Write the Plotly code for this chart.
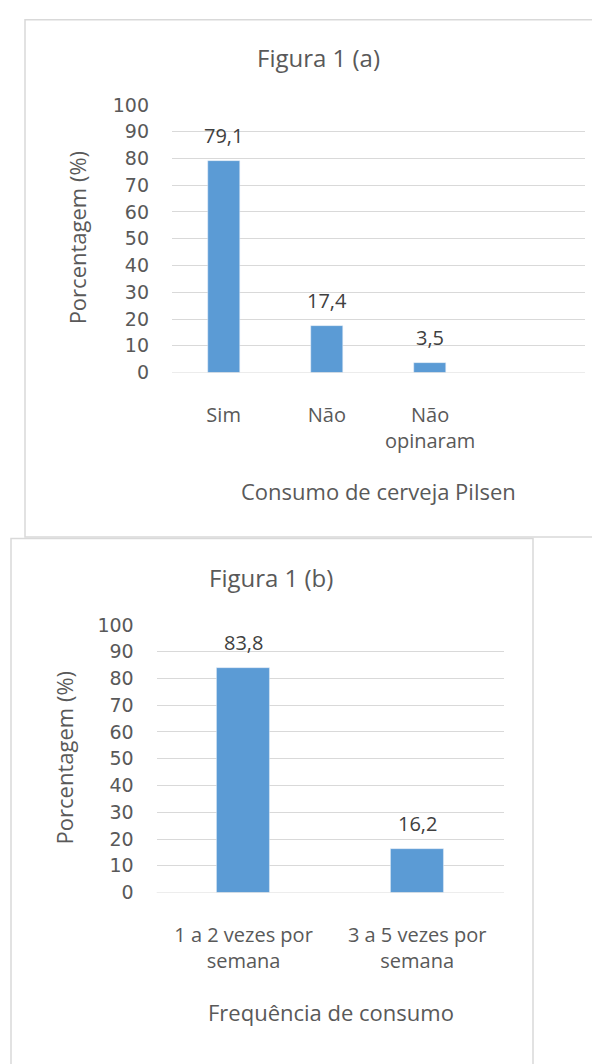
import plotly.graph_objects as go

# ---------------- data ----------------
cats_a = ["Sim", "Não", "Não<br>opinaram"]
vals_a = [79.1, 17.4, 3.5]
labels_a = ["79,1", "17,4", "3,5"]

cats_b = ["1 a 2 vezes por<br>semana", "3 a 5 vezes por<br>semana"]
vals_b = [83.8, 16.2]
labels_b = ["83,8", "16,2"]

title_a = "Figura 1 (a)"
title_b = "Figura 1 (b)"
xtitle_a = "Consumo de cerveja Pilsen"
xtitle_b = "Frequência de consumo"
ytitle = "Porcentagem (%)"
yticks = [0, 10, 20, 30, 40, 50, 60, 70, 80, 90, 100]

# ---------------- style ----------------
W, H = 600, 1064
OFF = 8  # page body margin offset in the browser
FONT = "Open Sans"
BAR = "#5B9BD5"
GRID = "#D9D9D9"
TXT = "#595959"
LBL = "#404040"


def px(x):
    return (x - OFF) / W


def py(y):
    return 1 - (y - OFF) / H


fig = go.Figure()

xa = list(range(len(cats_a)))
xb = list(range(len(cats_b)))

fig.add_trace(go.Bar(x=xa, y=vals_a, width=0.31, marker_color=BAR,
                     xaxis="x", yaxis="y", showlegend=False, hoverinfo="skip"))
fig.add_trace(go.Bar(x=xb, y=vals_b, width=0.305, marker_color=BAR,
                     xaxis="x2", yaxis="y2", showlegend=False, hoverinfo="skip"))

ax_common = dict(showgrid=False, zeroline=False, showline=False, ticks="",
                 tickfont=dict(family=FONT, size=20, color=TXT), fixedrange=True)
ay_common = dict(range=[0, 100], tickvals=yticks, showgrid=True, gridcolor=GRID,
                 gridwidth=1, zeroline=False, showline=False, ticks="",
                 tickfont=dict(family="DejaVu Sans", size=19, color=TXT),
                 ticklabelstandoff=22, fixedrange=True)

fig.update_layout(
    width=W, height=H, autosize=False,
    margin=dict(l=0, r=0, t=0, b=0),
    paper_bgcolor="white", plot_bgcolor="white",
    bargap=0,
    xaxis=dict(domain=[px(172), px(585)], range=[-0.5, 3.5], anchor="y",
               tickvals=xa, ticktext=cats_a, ticklabelstandoff=28, **ax_common),
    yaxis=dict(domain=[py(369), py(95.7)], anchor="x", **ay_common),
    xaxis2=dict(domain=[px(156.7), px(504)], range=[-0.5, 1.5], anchor="y2",
                tickvals=xb, ticktext=cats_b, ticklabelstandoff=28, **ax_common),
    yaxis2=dict(domain=[py(900), py(626.7)], anchor="x2", **ay_common),
)

# Bottom axis lines
fig.add_shape(type="line", xref="x domain", yref="y", x0=0, x1=1, y0=0, y1=0,
              line=dict(color=GRID, width=1))
fig.add_shape(type="line", xref="x2 domain", yref="y2", x0=0, x1=1, y0=0, y1=0,
              line=dict(color=GRID, width=1))

# Panel borders
fig.add_shape(type="rect", xref="paper", yref="paper", layer="below",
              x0=px(25), x1=px(640), y0=py(537), y1=py(8.8),
              line=dict(color=GRID, width=1.5), fillcolor="white")
fig.add_shape(type="rect", xref="paper", yref="paper", layer="below",
              x0=px(11), x1=px(533), y0=py(1090), y1=py(538.5),
              line=dict(color=GRID, width=1.5), fillcolor="white")

# Data labels
for xi, v, t in zip(xa, vals_a, labels_a):
    fig.add_annotation(x=xi, y=v, xref="x", yref="y", text=t, showarrow=False,
                       yanchor="bottom", yshift=10,
                       font=dict(family=FONT, size=20, color=LBL))
for xi, v, t in zip(xb, vals_b, labels_b):
    fig.add_annotation(x=xi, y=v, xref="x2", yref="y2", text=t, showarrow=False,
                       yanchor="bottom", yshift=10,
                       font=dict(family=FONT, size=20, color=LBL))

# Titles
tfont = dict(family=FONT, size=24, color=TXT)
afont = dict(family=FONT, size=22, color=TXT)
fig.add_annotation(x=px(318), y=py(47), xref="paper", yref="paper", text=title_a,
                   showarrow=False, font=tfont, xanchor="center", yanchor="middle")
fig.add_annotation(x=px(271), y=py(578), xref="paper", yref="paper", text=title_b,
                   showarrow=False, font=tfont, xanchor="center", yanchor="middle")
fig.add_annotation(x=px(378.5), y=py(490), xref="paper", yref="paper", text=xtitle_a,
                   showarrow=False, font=afont, xanchor="center", yanchor="middle")
fig.add_annotation(x=px(330.5), y=py(1021.7), xref="paper", yref="paper", text=xtitle_b,
                   showarrow=False, font=afont, xanchor="center", yanchor="middle")
fig.add_annotation(x=px(77), y=py(232), xref="paper", yref="paper", text=ytitle,
                   showarrow=False, font=afont, textangle=-90,
                   xanchor="center", yanchor="middle")
fig.add_annotation(x=px(64), y=py(763), xref="paper", yref="paper", text=ytitle,
                   showarrow=False, font=afont, textangle=-90,
                   xanchor="center", yanchor="middle")

fig.write_html("out.html", config={"displayModeBar": False})
